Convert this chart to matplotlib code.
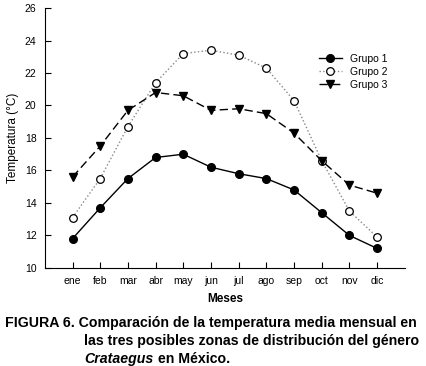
import matplotlib.pyplot as plt
import numpy as np

plt.rcParams['font.family'] = ['Liberation Sans', 'DejaVu Sans']

meses = ['ene', 'feb', 'mar', 'abr', 'may', 'jun', 'jul', 'ago', 'sep', 'oct', 'nov', 'dic']
grupo1 = [11.8, 13.7, 15.5, 16.8, 17.0, 16.2, 15.8, 15.5, 14.8, 13.4, 12.0, 11.2]
grupo2 = [13.1, 15.5, 18.7, 21.4, 23.2, 23.4, 23.1, 22.3, 20.3, 16.6, 13.5, 11.9]
grupo3 = [15.6, 17.5, 19.7, 20.8, 20.6, 19.7, 19.8, 19.5, 18.3, 16.6, 15.1, 14.6]

x = np.arange(len(meses))

fig = plt.figure(figsize=(4.27, 3.66), dpi=100)
ax = fig.add_axes([0.105, 0.268, 0.843, 0.710])

ax.plot(x, grupo1, '-', color='black', lw=1, marker='o', ms=5.5,
        mfc='black', mec='black', label='Grupo 1')
ax.plot(x, grupo2, ':', color='#888888', lw=1, marker='o', ms=5.5,
        mfc='white', mec='black', mew=0.9, label='Grupo 2')
ax.plot(x, grupo3, '--', color='black', lw=1, dashes=(6, 3), marker='v', ms=5.5,
        mfc='black', mec='black', label='Grupo 3')

ax.set_xlim(-1, 12)
ax.set_ylim(10, 26)
ax.set_yticks(np.arange(10, 27, 2))
ax.set_xticks(x)
ax.set_xticklabels(meses)
ax.tick_params(direction='in', length=4, width=0.8, labelsize=7.5, colors='black', pad=6)
ax.spines['top'].set_visible(False)
ax.spines['right'].set_visible(False)

ax.set_ylabel('Temperatura (°C)', fontsize=8.5, labelpad=4)
ax.set_xlabel('Meses', fontsize=8.5, fontweight='bold', labelpad=5)

ax.legend(loc='upper left', bbox_to_anchor=(0.735, 0.86), frameon=False,
          fontsize=7.5, handlelength=2.2, handletextpad=0.8, labelspacing=0.3)

cap = dict(fontsize=10.2, fontweight='bold', ha='left', va='baseline')
fig.text(0.012, 0.107, 'FIGURA 6. Comparación de la temperatura media mensual en', **cap)
fig.text(0.197, 0.057, 'las tres posibles zonas de distribución del género', **cap)
t = fig.text(0.197, 0.008, 'Crataegus', style='italic', **cap)
fig.canvas.draw()
bb = t.get_window_extent().transformed(fig.transFigure.inverted())
fig.text(bb.x1 + 0.012, 0.008, 'en México.', **cap)

fig.savefig('out.png', dpi=100)
